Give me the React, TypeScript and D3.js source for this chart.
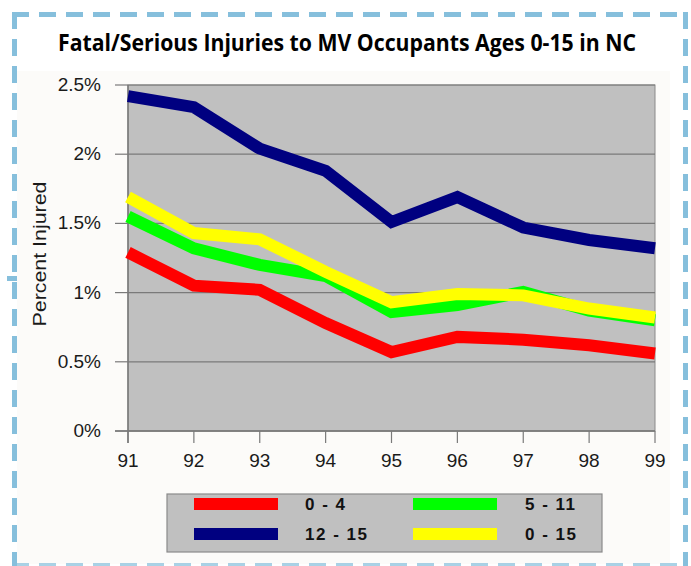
import React from "react";
import * as d3 from "d3";

const years = ["91", "92", "93", "94", "95", "96", "97", "98", "99"];
const age0to4 = [1.29, 1.05, 1.02, 0.78, 0.57, 0.68, 0.66, 0.62, 0.56];
const age5to11 = [1.55, 1.32, 1.2, 1.12, 0.86, 0.91, 1.005, 0.87, 0.8];
const age12to15 = [2.42, 2.34, 2.04, 1.88, 1.51, 1.69, 1.47, 1.38, 1.32];
const age0to15 = [1.69, 1.43, 1.385, 1.15, 0.93, 0.99, 0.98, 0.885, 0.82];
const yTicks = [0, 0.5, 1, 1.5, 2, 2.5];
const yTickLabels = ["0%", "0.5%", "1%", "1.5%", "2%", "2.5%"];
const seriesNames = ["0 - 4", "5 - 11", "12 - 15", "0 - 15"];
const seriesColors = ["#ff0000", "#00ff00", "#000080", "#ffff00"];
const title = "Fatal/Serious Injuries to MV Occupants Ages 0-15 in NC";
const yTitle = "Percent Injured";

export default function App() {
  const W = 691, H = 566;
  const plot = { l: 128, r: 655, t: 85, b: 431 };
  const x = d3.scalePoint<string>().domain(years).range([plot.l, plot.r]);
  const y = d3.scaleLinear().domain([0, 2.5]).range([plot.b, plot.t]);
  const line = d3
    .line<number>()
    .x((_, i) => x(years[i]) as number)
    .y((d) => y(d));
  const series = [age0to4, age5to11, age12to15, age0to15];
  const drawOrder = [0, 1, 2, 3];
  const font = "'Liberation Sans', Arial, sans-serif";
  const border = "#86bfdc";
  const dash = "17 10";

  const legendItems = [
    { idx: 0, sx: 194, tx: 305, row: 0 },
    { idx: 1, sx: 413, tx: 525, row: 0 },
    { idx: 2, sx: 194, tx: 305, row: 1 },
    { idx: 3, sx: 413, tx: 525, row: 1 },
  ];

  return (
    <svg
      width={W}
      height={H}
      style={{ position: "absolute", left: 0, top: 0, display: "block" }}
    >
      <rect x={0} y={0} width={W} height={H} fill="#ffffff" />
      {/* off-white panel */}
      <rect x={17} y={71} width={653} height={493} fill="#fcfbf9" />
      {/* dashed border */}
      <line x1={12} y1={14.5} x2={688} y2={14.5} stroke={border} strokeWidth={5} strokeDasharray={dash} />
      <line x1={14.5} y1={12} x2={14.5} y2={566} stroke={border} strokeWidth={5} strokeDasharray={dash} />
      <line x1={685.5} y1={12} x2={685.5} y2={566} stroke={border} strokeWidth={5} strokeDasharray={dash} />
      <line x1={12} y1={565} x2={688} y2={565} stroke={border} strokeWidth={4} strokeDasharray={dash} opacity={0.7} />
      <rect x={7} y={276} width={10} height={5} fill={border} />

      {/* title */}
      <text
        x={347}
        y={51}
        textAnchor="middle"
        fontFamily="'Open Sans', 'Liberation Sans', sans-serif"
        fontWeight="bold"
        fontSize={23}
        textLength={578}
        lengthAdjust="spacingAndGlyphs"
        fill="#000"
      >
        {title}
      </text>

      {/* plot background */}
      <rect x={plot.l} y={plot.t} width={plot.r - plot.l} height={plot.b - plot.t} fill="#c0c0c0" stroke="#8a8a8a" strokeWidth={1} />
      {yTicks.map((t) => (
        <line key={"g" + t} x1={plot.l} x2={plot.r} y1={y(t)} y2={y(t)} stroke="#7a7a7a" strokeWidth={1.2} />
      ))}
      {/* axes */}
      <line x1={plot.l} x2={plot.l} y1={plot.t} y2={plot.b + 12} stroke="#7a7a7a" strokeWidth={1.5} />
      <line x1={plot.l - 13} x2={plot.r} y1={plot.b} y2={plot.b} stroke="#7a7a7a" strokeWidth={1.5} />
      {yTicks.map((t, i) => (
        <g key={"yt" + t}>
          <line x1={plot.l - 13} x2={plot.l} y1={y(t)} y2={y(t)} stroke="#7a7a7a" strokeWidth={1.2} />
          <text x={101} y={y(t) + 6} textAnchor="end" fontFamily={font} fontSize={19} fill="#1a1a1a">
            {yTickLabels[i]}
          </text>
        </g>
      ))}
      {years.map((yr) => (
        <g key={"xt" + yr}>
          <line x1={x(yr)} x2={x(yr)} y1={plot.b} y2={plot.b + 12} stroke="#7a7a7a" strokeWidth={1.2} />
          <text x={x(yr)} y={467} textAnchor="middle" fontFamily={font} fontSize={19} fill="#1a1a1a">
            {yr}
          </text>
        </g>
      ))}
      <text
        transform={`translate(46,254) rotate(-90)`}
        textAnchor="middle"
        fontFamily={font}
        fontSize={19}
        textLength={145}
        lengthAdjust="spacingAndGlyphs"
        fill="#1a1a1a"
      >
        {yTitle}
      </text>

      {/* lines */}
      <g>
        {drawOrder.map((i) => (
          <path
            key={"s" + i}
            d={line(series[i]) || ""}
            fill="none"
            stroke={seriesColors[i]}
            strokeWidth={12}
            strokeLinejoin="miter"
            strokeLinecap="butt"
          />
        ))}
      </g>

      {/* legend */}
      <rect x={167} y={494} width={435} height={58} fill="#c0c0c0" stroke="#8a8a8a" strokeWidth={1.2} />
      {legendItems.map((it) => {
        const cy = it.row === 0 ? 504 : 534;
        return (
          <g key={"lg" + it.idx}>
            <rect x={it.sx} y={cy - 6} width={84} height={12} fill={seriesColors[it.idx]} />
            <text x={it.tx} y={cy + 6} fontFamily={font} fontWeight="bold" fontSize={17} letterSpacing={1.5} fill="#111">
              {seriesNames[it.idx]}
            </text>
          </g>
        );
      })}
    </svg>
  );
}
